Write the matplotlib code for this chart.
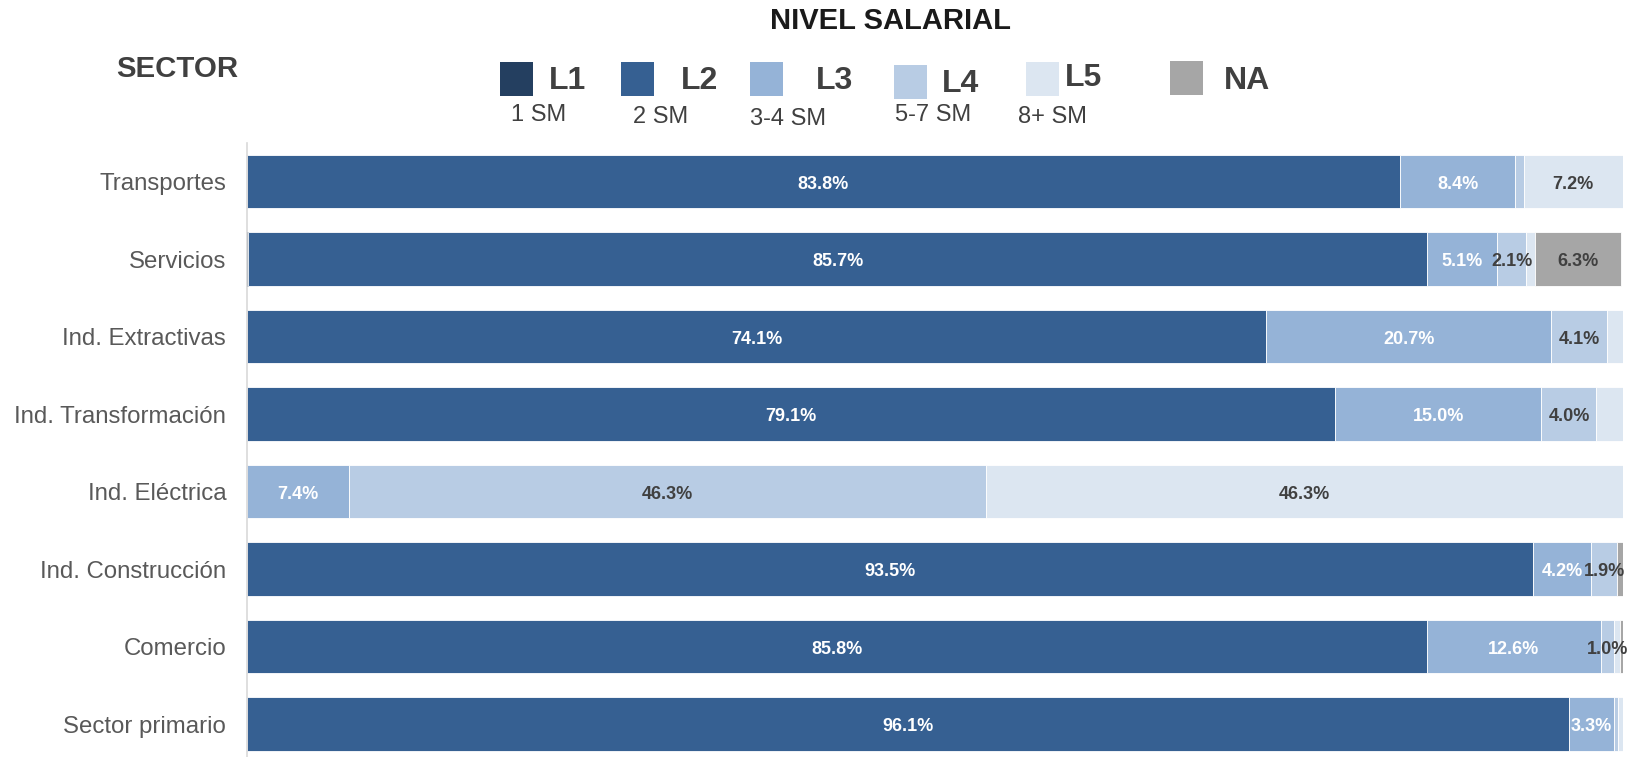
import matplotlib
matplotlib.use("Agg")
import matplotlib.pyplot as plt
from matplotlib.patches import Rectangle

plt.rcParams['font.family'] = ['Liberation Sans', 'DejaVu Sans']

# datos (porcentaje por nivel salarial)
sectores = ["Transportes", "Servicios", "Ind. Extractivas", "Ind. Transformación",
            "Ind. Eléctrica", "Ind. Construcción", "Comercio", "Sector primario"]
niveles = ["L1", "L2", "L3", "L4", "L5", "NA"]
rangos = ["1 SM", "2 SM", "3-4 SM", "5-7 SM", "8+ SM", ""]

L1 = [0.0, 0.1, 0.0, 0.0, 0.0, 0.0, 0.0, 0.0]
L2 = [83.8, 85.7, 74.1, 79.1, 0.0, 93.5, 85.8, 96.1]
L3 = [8.4, 5.1, 20.7, 15.0, 7.4, 4.2, 12.6, 3.3]
L4 = [0.6, 2.1, 4.1, 4.0, 46.3, 1.9, 1.0, 0.3]
L5 = [7.2, 0.6, 1.1, 1.9, 46.3, 0.0, 0.4, 0.3]
NA = [0.0, 6.3, 0.0, 0.0, 0.0, 0.4, 0.2, 0.0]

colores = ["#243F60", "#366092", "#95B3D7", "#B8CCE4", "#DCE6F1", "#A6A6A6"]
col_txt = ["white", "white", "white", "#404040", "#404040", "#404040"]
min_etq = [1.0, 1.0, 1.0, 1.0, 2.0, 1.0]   # etiquetas pequeñas no se muestran

W, H = 1634, 757
def fx(px):
    return px / W
def fy(py):
    return 1 - py / H

fig = plt.figure(figsize=(W / 100, H / 100), dpi=100)
ax = fig.add_axes([fx(247), 0, 1375.6 / W, 614.2 / H])

series = [L1, L2, L3, L4, L5, NA]
ypos = list(range(len(sectores)))
left = [0.0] * len(sectores)
for k, vals in enumerate(series):
    ax.barh(ypos, vals, left=left, height=0.69, color=colores[k],
            edgecolor=colores[k] if k == 0 else "white", linewidth=0.6)
    for i, v in enumerate(vals):
        if v >= min_etq[k]:
            ax.text(left[i] + v / 2, i + 0.035, "%.1f%%" % v, ha="center", va="center",
                    fontsize=13, fontweight="bold", color=col_txt[k])
    left = [a + b for a, b in zip(left, vals)]

ax.set_xlim(0, 100)
ax.set_ylim(7.425, -0.5)
ax.set_yticks(ypos)
ax.set_yticklabels(sectores, fontsize=17.3, color="#595959")
ax.tick_params(axis="y", length=0, pad=15)
ax.set_xticks([])
for s in ["top", "right", "bottom"]:
    ax.spines[s].set_visible(False)
ax.spines["left"].set_color("#d9d9d9")
ax.spines["left"].set_linewidth(1.2)

# titulos
fig.text(fx(890), fy(21), "NIVEL SALARIAL", ha="center", va="center",
         fontsize=21, fontweight="bold", color="#1a1a1a")
fig.text(fx(177), fy(69), "SECTOR", ha="center", va="center",
         fontsize=21.2, fontweight="bold", color="#404040")

# leyenda manual
caja_x = [500, 621, 750, 894, 1026, 1170]
caja_y = [62, 62, 62, 65, 62, 61]
txt_x = [549, 681, 816, 942, 1065, 1224]
txt_y = [81, 81, 81, 84, 78, 81]
sub_x = [539, 661, 788, 933, 1053, 0]
sub_y = [115, 117, 119, 115, 117, 0]
for k in range(len(niveles)):
    fig.add_artist(Rectangle((fx(caja_x[k]), fy(caja_y[k] + 34)), 33 / W, 34 / H,
                             transform=fig.transFigure, facecolor=colores[k],
                             edgecolor="none"))
    fig.text(fx(txt_x[k]), fy(txt_y[k]), niveles[k], ha="left", va="center",
             fontsize=23, fontweight="bold", color="#404040")
    if rangos[k]:
        fig.text(fx(sub_x[k]), fy(sub_y[k]), rangos[k], ha="center", va="center",
                 fontsize=17, color="#404040")

fig.savefig("out.png", dpi=100)
